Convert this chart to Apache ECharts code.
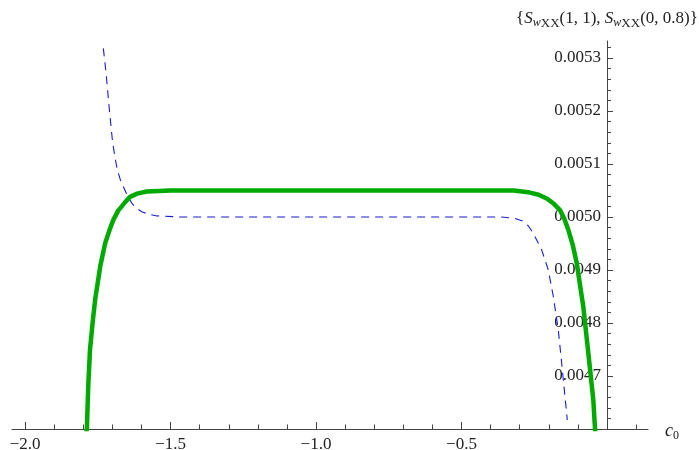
<!DOCTYPE html>
<html>
<head>
<meta charset="utf-8">
<script src="https://cdn.jsdelivr.net/npm/echarts@6/dist/echarts.min.js"></script>
<style>
  html, body { margin: 0; padding: 0; background: #fff; }
  #chart { width: 699px; height: 450px; }
</style>
</head>
<body>
<div id="chart"></div>
<script>
// S_wXX(1, 1) — solid green curve
const c0Solid = [-1.795, -1.7876, -1.783, -1.777, -1.768, -1.7595, -1.742, -1.725, -1.71, -1.697, -1.68, -1.665, -1.656, -1.639, -1.615, -1.582,
  -1.54, -1.5, -1.0, -0.5, -0.32, -0.2646, -0.235, -0.2073, -0.185, -0.1615, -0.147, -0.133, -0.118, -0.104, -0.0814, -0.0641, -0.047, -0.041, -0.038];
const sSolid = [0.00458, 0.0046, 0.00468, 0.004749, 0.0048, 0.004843, 0.004906, 0.00495, 0.004975, 0.004994, 0.005012, 0.005022, 0.005028, 0.005038, 0.005044, 0.005048,
  0.005049, 0.00505, 0.00505, 0.00505, 0.00505, 0.005046, 0.005042, 0.005035, 0.005026, 0.005013, 0.004997, 0.004976, 0.004948, 0.004913, 0.004831, 0.004743, 0.004655, 0.0046, 0.00457];

// S_wXX(0, 0.8) — dashed blue curve
const c0Dashed = [-1.731, -1.7216, -1.7113, -1.7, -1.691, -1.6828, -1.672, -1.6622, -1.648, -1.6333, -1.618, -1.599, -1.575, -1.547, -1.467,
  -1.0, -0.368, -0.322, -0.2876, -0.27, -0.2533, -0.2244, -0.2017, -0.1845, -0.1673, -0.1557, -0.1443, -0.1364];
const sDashed = [0.005318, 0.005271, 0.005208, 0.005145, 0.005112, 0.005089, 0.005069, 0.005057, 0.00504, 0.005026, 0.005017, 0.00501, 0.005005, 0.005002, 0.005,
  0.005, 0.005, 0.004998, 0.004992, 0.004983, 0.004969, 0.004938, 0.0049, 0.00485, 0.004787, 0.004724, 0.004661, 0.004617];

// Axis ticks and labels
const xMajorTicks = [-2.0, -1.5, -1.0, -0.5, 0];
const xLabels = [-2.0, -1.5, -1.0, -0.5];
const xMinorTicks = [-2.0, -1.9, -1.8, -1.7, -1.6, -1.5, -1.4, -1.3, -1.2, -1.1, -1.0,
  -0.9, -0.8, -0.7, -0.6, -0.5, -0.4, -0.3, -0.2, -0.1, 0, 0.1];
const yMajorTicks = [0.0047, 0.0048, 0.0049, 0.005, 0.0051, 0.0052, 0.0053];
const yMinorTicks = [0.00462, 0.00464, 0.00466, 0.00468, 0.0047, 0.00472, 0.00474, 0.00476, 0.00478,
  0.0048, 0.00482, 0.00484, 0.00486, 0.00488, 0.0049, 0.00492, 0.00494, 0.00496, 0.00498,
  0.005, 0.00502, 0.00504, 0.00506, 0.00508, 0.0051, 0.00512, 0.00514, 0.00516, 0.00518,
  0.0052, 0.00522, 0.00524, 0.00526, 0.00528, 0.0053, 0.00532];

const X_MIN = -2.045, X_MAX = 0.141;
const Y_MIN = 0.0046, Y_MAX = 0.005332;

const W = 699, H = 450;
const GRID = { left: 12, right: 51, top: 41, bottom: 21 };
// the vertical axis sits at c0 = 0, inside the plot area
const plotWidth = W - GRID.left - GRID.right;
const yAxisShift = -(0 - X_MIN) / (X_MAX - X_MIN) * plotWidth;

const serif = 'Liberation Serif';
const axisColor = '#444';
const textColor = '#222';

const zip = (xs, ys) => xs.map((x, i) => [x, ys[i]]);

const chart = echarts.init(document.getElementById('chart'), null, { renderer: 'canvas', width: W, height: H });

chart.setOption({
  animation: false,
  backgroundColor: '#fff',
  grid: { left: GRID.left, right: GRID.right, top: GRID.top, bottom: GRID.bottom, containLabel: false, outerBoundsMode: 'none' },
  xAxis: [
    {
      type: 'value', position: 'bottom', min: X_MIN, max: X_MAX,
      splitLine: { show: false },
      axisLine: { show: true, onZero: false, lineStyle: { color: axisColor, width: 1 } },
      axisTick: { show: true, inside: true, length: 7, customValues: xMajorTicks, lineStyle: { color: axisColor } },
      axisLabel: {
        show: true, customValues: xLabels, margin: 7,
        fontFamily: serif, fontSize: 17, color: textColor,
        formatter: v => (v < 0 ? '\u2212' : '') + Math.abs(v).toFixed(1)
      },
      name: '{i|c}{s|0}', nameLocation: 'end', nameGap: 17,
      nameTextStyle: {
        fontFamily: serif, color: textColor, verticalAlign: 'middle', padding: [4, 0, 0, 0],
        rich: {
          i: { fontFamily: serif, fontStyle: 'italic', fontSize: 18, color: textColor },
          s: { fontFamily: serif, fontSize: 12, color: textColor, padding: [10, 0, 0, 0] }
        }
      }
    },
    {
      type: 'value', position: 'bottom', min: X_MIN, max: X_MAX,
      splitLine: { show: false },
      axisLine: { show: false, onZero: false },
      axisTick: { show: true, inside: true, length: 4.5, customValues: xMinorTicks, lineStyle: { color: axisColor } },
      axisLabel: { show: false }
    }
  ],
  yAxis: [
    {
      type: 'value', position: 'left', offset: yAxisShift, min: Y_MIN, max: Y_MAX,
      splitLine: { show: false },
      axisLine: { show: true, onZero: false, lineStyle: { color: axisColor, width: 1 } },
      axisTick: { show: true, inside: true, length: 6, customValues: yMajorTicks, lineStyle: { color: axisColor } },
      axisLabel: {
        show: true, customValues: yMajorTicks, margin: 6,
        fontFamily: serif, fontSize: 17, color: textColor,
        formatter: v => v.toFixed(4)
      },
      name: '{{S|S}{w|w}{xx|XX}{t|(1, 1), }{S|S}{w|w}{xx|XX}{t|(0, 0.8)}}',
      nameLocation: 'end', nameGap: 11,
      nameTextStyle: {
        fontFamily: serif, fontSize: 17, color: textColor, align: 'center',
        rich: {
          S: { fontFamily: serif, fontStyle: 'italic', fontSize: 17, color: textColor },
          w: { fontFamily: serif, fontStyle: 'italic', fontSize: 12, color: textColor, padding: [7, 0, 0, 0] },
          xx: { fontFamily: serif, fontSize: 13, color: textColor, padding: [9, 0, 0, 0] },
          t: { fontFamily: serif, fontSize: 17, color: textColor }
        }
      }
    },
    {
      type: 'value', position: 'left', offset: yAxisShift, min: Y_MIN, max: Y_MAX,
      splitLine: { show: false },
      axisLine: { show: false, onZero: false },
      axisTick: { show: true, inside: true, length: 4, customValues: yMinorTicks, lineStyle: { color: axisColor } },
      axisLabel: { show: false }
    }
  ],
  series: [
    {
      name: 'S_wXX(0, 0.8)', type: 'line', xAxisIndex: 0, yAxisIndex: 0,
      data: zip(c0Dashed, sDashed),
      showSymbol: false, smooth: false, clip: true,
      lineStyle: { color: '#1a1acc', width: 1.1, type: [8, 6] },
      z: 2
    },
    {
      name: 'S_wXX(1, 1)', type: 'line', xAxisIndex: 0, yAxisIndex: 0,
      data: zip(c0Solid, sSolid),
      showSymbol: false, smooth: false, clip: true,
      lineStyle: { color: '#00aa00', width: 4.5, join: 'round' },
      z: 3
    }
  ]
});
</script>
</body>
</html>
